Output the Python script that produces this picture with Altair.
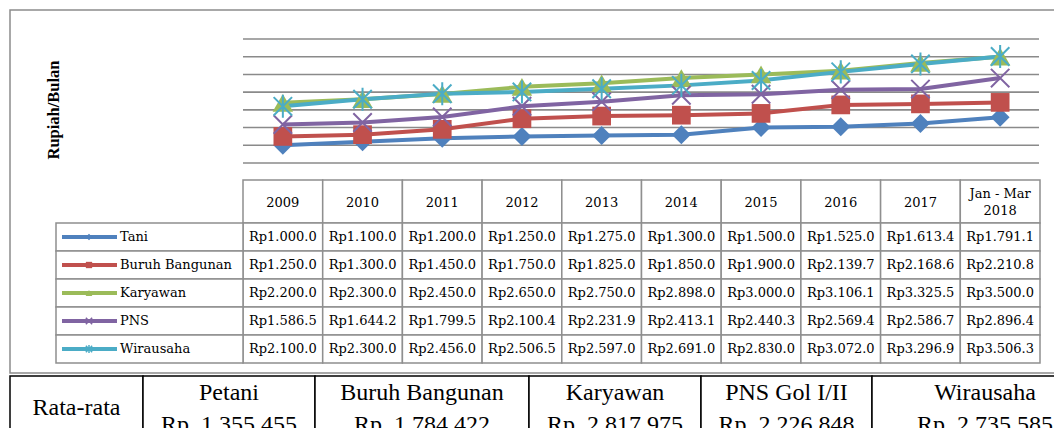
import altair as alt
import pandas as pd

# ---------------- data ----------------
years = ["2009", "2010", "2011", "2012", "2013", "2014", "2015", "2016", "2017", "Jan - Mar\n2018"]
series = ["Tani", "Buruh Bangunan", "Karyawan", "PNS", "Wirausaha"]
tani = [1000.0, 1100.0, 1200.0, 1250.0, 1275.0, 1300.0, 1500.0, 1525.0, 1613.4, 1791.1]
buruh = [1250.0, 1300.0, 1450.0, 1750.0, 1825.0, 1850.0, 1900.0, 2139.7, 2168.6, 2210.8]
karyawan = [2200.0, 2300.0, 2450.0, 2650.0, 2750.0, 2898.0, 3000.0, 3106.1, 3325.5, 3500.0]
pns = [1586.5, 1644.2, 1799.5, 2100.4, 2231.9, 2413.1, 2440.3, 2569.4, 2586.7, 2896.4]
wirausaha = [2100.0, 2300.0, 2456.0, 2506.5, 2597.0, 2691.0, 2830.0, 3072.0, 3296.9, 3506.3]
grid_values = [500, 1000, 1500, 2000, 2500, 3000, 3500, 4000]
y_title = "Rupiah/Bulan"
avg_title = "Rata-rata"
avg_labels = ["Petani", "Buruh Bangunan", "Karyawan", "PNS Gol I/II", "Wirausaha"]
avg_values = [1355455, 1784422, 2817975, 2226848, 2735585]

values_by_series = [tani, buruh, karyawan, pns, wirausaha]

# ---------------- styles ----------------
colors = ["#4F81BD", "#C0504D", "#9BBB59", "#8064A2", "#4BACC6"]
X_PATH = "M-1,-1L1,1M-1,1L1,-1"
AST_PATH = "M-1,-1L1,1M-1,1L1,-1M0,-1.25L0,1.25"
shapes = ["diamond", "square", "triangle-up", X_PATH, AST_PATH]
filled = [True, True, True, False, False]
sizes = [360, 350, 420, 340, 340]
leg_sizes = [40, 40, 45, 40, 40]
GRID = "#8a8a8a"
CELL = "#8f8f8f"
TFONT = "DejaVu Serif"
SFONT = "Liberation Serif"

rows = []
for s, vals in zip(series, values_by_series):
    for y, v in zip(years, vals):
        rows.append({"series": s, "year": y, "value": v,
                     "label": "Rp" + f"{v:,.1f}".replace(",", ".")})
df = pd.DataFrame(rows)
df_years = pd.DataFrame({"year": years})
df_years_1 = df_years[~df_years.year.str.contains("\n")]
df_years_2 = df_years[df_years.year.str.contains("\n")]
df_series = pd.DataFrame({"series": series})
df_grid = pd.DataFrame({"g": grid_values})
df_avg = pd.DataFrame({
    "idx": list(range(1, 1 + len(avg_labels))),
    "name": avg_labels,
    "val": [f"Rp\u00a0 {v:,}" for v in avg_values],
})
df_avg["idx2"] = df_avg["idx"] + 1
df_avg["mid"] = df_avg["idx"] + 0.5
df_first = pd.DataFrame({"idx": [0], "idx2": [1], "mid": [0.5], "name": [avg_title]})
one = pd.DataFrame({"a": [0]})

# ---------------- scales ----------------
X_YEAR = alt.Scale(type="band", domain=years, range=[235, 1032], paddingInner=0, paddingOuter=0)
Y_VAL = alt.Scale(type="linear", domain=[500, 4000], range=[155, 31], zero=False, nice=False)
Y_ROW = alt.Scale(type="band", domain=series, range=[215, 355], paddingInner=0, paddingOuter=0)
X_BOT = alt.Scale(type="linear", domain=[0, 1, 2, 3, 4, 5, 6],
                  range=[2, 135, 307, 521, 693, 864, 1090], zero=False, nice=False)

xy = alt.X("year:N", scale=X_YEAR, axis=None, bandPosition=0.5)
xyr = alt.X("year:N", scale=X_YEAR, axis=None)
yr = alt.Y("series:N", scale=Y_ROW, axis=None)

layers = []

# outer box
layers.append(alt.Chart(one).mark_rect(fill="white", stroke="#8c8c8c", strokeWidth=1.5).encode(
    x=alt.value(2), x2=alt.value(1100), y=alt.value(2), y2=alt.value(365)))

# y title
layers.append(alt.Chart(one).mark_text(text=y_title, angle=270, font=SFONT, fontWeight="bold",
                                       fontSize=16.5, color="black", align="center", baseline="middle").encode(
    x=alt.value(46), y=alt.value(102)))

# gridlines
layers.append(alt.Chart(df_grid).mark_rule(color=GRID, strokeWidth=1.6).encode(
    y=alt.Y("g:Q", scale=Y_VAL, axis=None), x=alt.value(235), x2=alt.value(1031)))

# lines
for s, c in zip(series, colors):
    layers.append(alt.Chart(df[df.series == s]).mark_line(color=c, strokeWidth=4).encode(
        x=xy, y=alt.Y("value:Q", scale=Y_VAL, axis=None)))

# markers
for s, c, sh, f, sz in zip(series, colors, shapes, filled, sizes):
    layers.append(alt.Chart(df[df.series == s]).mark_point(
        shape=sh, filled=f, size=sz, color=c, opacity=1, strokeWidth=2).encode(
        x=xy, y=alt.Y("value:Q", scale=Y_VAL, axis=None)))

# header cells
layers.append(alt.Chart(df_years).mark_rect(fill="white", stroke=CELL, strokeWidth=1.5).encode(
    x=xyr, y=alt.value(172), y2=alt.value(215)))
layers.append(alt.Chart(df_years_1).mark_text(font=TFONT, fontSize=13, color="black",
                                              baseline="middle").encode(
    x=xy, y=alt.value(195), text="year:N"))
layers.append(alt.Chart(df_years_2).mark_text(font=TFONT, fontSize=13, color="black",
                                              lineBreak="\n", lineHeight=17, baseline="middle").encode(
    x=xy, y=alt.value(186), text="year:N"))

# value cells
layers.append(alt.Chart(df).mark_rect(fill="white", stroke=CELL, strokeWidth=1.5).encode(x=xyr, y=yr))
layers.append(alt.Chart(df).mark_text(font=TFONT, fontSize=13, color="black", baseline="middle").encode(
    x=xy, y=yr, text="label:N"))

# legend column
layers.append(alt.Chart(df_series).mark_rect(fill="white", stroke=CELL, strokeWidth=1.5).encode(
    x=alt.value(48), x2=alt.value(235), y=yr))
for s, c, sh, f, lz in zip(series, colors, shapes, filled, leg_sizes):
    sub = df_series[df_series.series == s]
    layers.append(alt.Chart(sub).mark_rule(color=c, strokeWidth=4).encode(
        x=alt.value(54), x2=alt.value(109), y=alt.Y("series:N", scale=Y_ROW, axis=None, bandPosition=0.5)))
    layers.append(alt.Chart(sub).mark_point(shape=sh, filled=f, size=lz, color=c, opacity=1,
                                            strokeWidth=1.5).encode(
        x=alt.value(81), y=yr))
layers.append(alt.Chart(df_series).mark_text(font=TFONT, fontSize=13, color="black", align="left",
                                             baseline="middle").encode(
    x=alt.value(112), y=yr, text="series:N"))

# bottom table
xb = alt.X("idx:Q", scale=X_BOT, axis=None)
xb2 = alt.X2("idx2:Q")
xm = alt.X("mid:Q", scale=X_BOT, axis=None)
layers.append(alt.Chart(df_first).mark_rect(fill="white", stroke="black", strokeWidth=1.5).encode(
    x=xb, x2=xb2, y=alt.value(368), y2=alt.value(460)))
layers.append(alt.Chart(df_avg).mark_rect(fill="white", stroke="black", strokeWidth=1.5).encode(
    x=xb, x2=xb2, y=alt.value(368), y2=alt.value(460)))
layers.append(alt.Chart(df_first).mark_text(font=SFONT, fontSize=24, color="black", baseline="middle").encode(
    x=xm, y=alt.value(400), text="name:N"))
layers.append(alt.Chart(df_avg).mark_text(font=SFONT, fontSize=24, color="black", baseline="middle").encode(
    x=xm, y=alt.value(385), text="name:N"))
layers.append(alt.Chart(df_avg).mark_text(font=SFONT, fontSize=24, color="black", baseline="middle").encode(
    x=xm, y=alt.value(417), text="val:N"))

chart = alt.layer(*layers).resolve_scale(x="independent", y="independent").properties(
    width=1046, height=420, padding=0, autosize=alt.AutoSizeParams(type="none"),
    background="white",
).configure_view(stroke=None)

chart.save("out.html", embed_options={"renderer": "svg", "actions": False})
